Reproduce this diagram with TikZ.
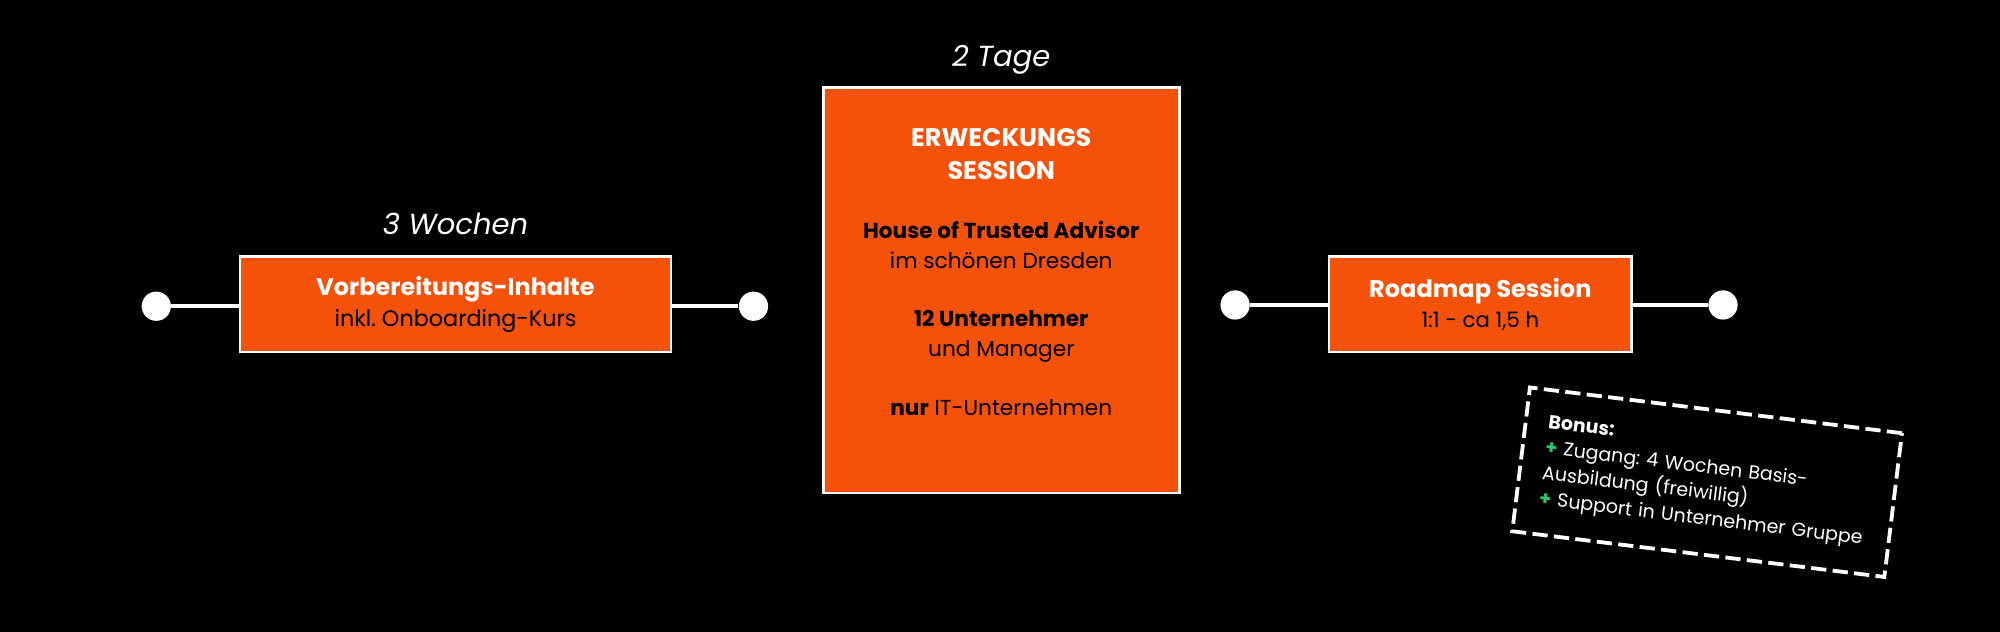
\documentclass[tikz,border=0pt]{standalone}
\usepackage{fontspec}
\setmainfont{Poppins}
\usepackage{xcolor}
\usepackage{tikz}
\usetikzlibrary{positioning}
\definecolor{phaseorange}{RGB}{244,81,10}
\definecolor{plusgreen}{RGB}{40,200,110}
\frenchspacing

\begin{document}
\begin{tikzpicture}[x=0.2mm, y=-0.2mm,
  phase/.style={draw=white, line width=1.2pt, fill=phaseorange, align=center, inner sep=0pt},
  dot/.style={circle, fill=white, minimum size=4.6mm, inner sep=0pt},
  link/.style={draw=white, line width=1.6pt},
  duration/.style={text=white, inner sep=0pt, font=\fontsize{13}{16}\selectfont\itshape},
  bonusbox/.style={draw=white, dash pattern=on 2.4mm off 1mm, line width=0.6mm,
    minimum width=59mm, minimum height=22.8mm, inner xsep=3.6mm, text width=51.8mm,
    text=white, align=left, font=\fontsize{8.5}{11.5}\selectfont}]
  \fill[black] (-3,-3) rectangle (1571,494);
  \useasboundingbox (0,0) rectangle (1568,491);

  \node[phase, minimum width=67.8mm, minimum height=15mm, font=\fontsize{10}{13.6}\selectfont] (prep) at (355.5,236.5)
    {\textcolor{white}{\bfseries\fontsize{10.7}{13.6}\selectfont Vorbereitungs-Inhalte}\\inkl. Onboarding-Kurs};
  \node[phase, minimum width=56mm, minimum height=63.8mm] (session) at (785,225.5) {};
  \node[phase, minimum width=47.6mm, minimum height=15mm, font=\fontsize{9.5}{13.6}\selectfont] (roadmap) at (1162,236.5)
    {\textcolor{white}{\bfseries\fontsize{10.8}{13.6}\selectfont Roadmap Session}\\1:1 - ca 1,5 h};

  \node[below=6.6mm of session.north, align=center, inner sep=0pt, font=\fontsize{9.7}{13.5}\selectfont] (sessiontext)
    {\textcolor{white}{\bfseries\fontsize{11.4}{13.5}\selectfont ERWECKUNGS}\\[1pt]
     \textcolor{white}{\bfseries\fontsize{11.4}{13.5}\selectfont SESSION}\\[13pt]
     \textbf{House of Trusted Advisor}\\ im schönen Dresden\\[12.5pt]
     \textbf{12 Unternehmer}\\ und Manager\\[13pt]
     \textbf{nur} IT-Unternehmen};

  \node[duration, above=3.2mm of prep] (prepdays) {3 Wochen};
  \node[duration, above=1.8mm of session] (sessiondays) {2 Tage};

  \node[dot] (prepin) at (120,238) {};
  \node[dot] (prepout) at (590,238) {};
  \node[dot] (roadin) at (969,237) {};
  \node[dot] (roadout) at (1353,237) {};
  \draw[link] (prepin) -- (prepin -| prep.west);
  \draw[link] (prep.east |- prepout) -- (prepout);
  \draw[link] (roadin) -- (roadin -| roadmap.west);
  \draw[link] (roadmap.east |- roadout) -- (roadout);

  \node[bonusbox, rotate=-7] (bonus) at (1340.5,376.5)
    {\textbf{Bonus:}\\
     \textcolor{plusgreen}{\textbf{+}} Zugang: 4 Wochen Basis-\\
     Ausbildung (freiwillig)\\
     \textcolor{plusgreen}{\textbf{+}} Support in Unternehmer Gruppe};
\end{tikzpicture}
\end{document}
